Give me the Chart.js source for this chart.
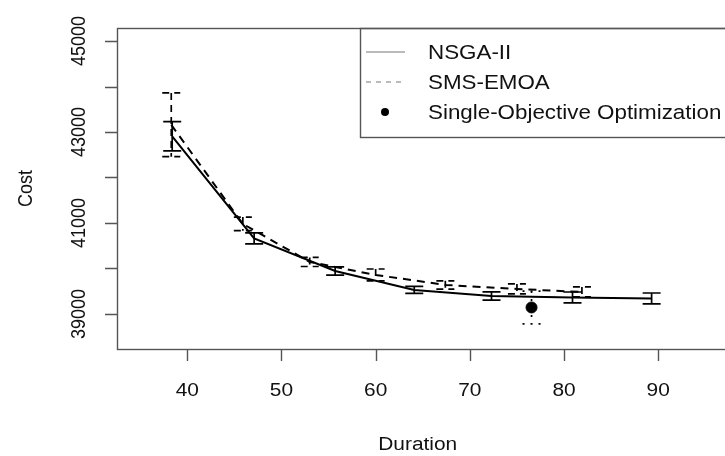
<!DOCTYPE html>
<html lang="en">
<head>
  <meta charset="UTF-8" />
  <title>Cost vs Duration</title>
  <script src="https://cdn.jsdelivr.net/npm/chart.js"></script>
  <style>
    body {
      margin: 0;
      padding: 0;
      background: white;
    }
    canvas {
      display: block;
    }
  </style>
</head>
<body>
  <canvas id="paretoChart" width="725" height="456"></canvas>

  <script>
    // values
    const nsgaDuration = [38.4, 47.1, 55.7, 64.1, 72.3, 80.9, 89.3];
    const nsgaCost = [42906, 40661, 39946, 39528, 39396, 39363, 39341];
    const nsgaSd = [320, 120, 90, 77, 90, 120, 120];

    const smsDuration = [38.3, 45.9, 53.0, 60.0, 67.4, 75.0, 81.9];
    const smsCost = [43158, 40980, 40144, 39858, 39638, 39550, 39484];
    const smsSd = [700, 150, 100, 130, 90, 110, 110];

    const soDuration = [76.55];
    const soCost = [39143];
    const soSd = [360];

    const xTicks = [40, 50, 60, 70, 80, 90];
    const yTicks = [39000, 40000, 41000, 42000, 43000, 44000, 45000];
    const yLabels = [39000, 41000, 43000, 45000];

    const legendNames = ['NSGA-II', 'SMS-EMOA', 'Single-Objective Optimization'];

    const FONT = '18px "Liberation Sans", Arial, sans-serif';
    const LEGEND_FONT = '19.3px "Liberation Sans", Arial, sans-serif';
    const STRETCH = 1.16; // the picture is a bit wider than tall

    function toPoints(xs, ys) {
      return xs.map((x, i) => ({ x: x, y: ys[i] }));
    }

    // text drawn with the same horizontal stretch as the picture
    function drawText(ctx, text, x, y, align, rotate, font) {
      ctx.save();
      ctx.translate(x, y);
      ctx.scale(STRETCH, 1);
      if (rotate) ctx.rotate(-Math.PI / 2);
      ctx.font = font || FONT;
      ctx.fillStyle = '#111';
      ctx.textAlign = align;
      ctx.textBaseline = 'alphabetic';
      ctx.fillText(text, 0, 0);
      ctx.restore();
    }

    const errorBars = {
      id: 'errorBars',
      afterDatasetsDraw(chart) {
        const ctx = chart.ctx;
        const xs = chart.scales.x;
        const ys = chart.scales.y;
        const sets = [
          { d: nsgaDuration, c: nsgaCost, s: nsgaSd, dash: [] },
          { d: smsDuration, c: smsCost, s: smsSd, dash: [7, 5] },
          { d: soDuration, c: soCost, s: soSd, dash: [2, 6] }
        ];
        const cap = 9;
        ctx.save();
        ctx.strokeStyle = '#000';
        ctx.lineWidth = 1.7;
        sets.forEach(set => {
          ctx.setLineDash(set.dash);
          set.d.forEach((dur, i) => {
            const px = xs.getPixelForValue(dur);
            const top = ys.getPixelForValue(set.c[i] + set.s[i]);
            const bot = ys.getPixelForValue(set.c[i] - set.s[i]);
            ctx.beginPath();
            ctx.moveTo(px, top);
            ctx.lineTo(px, bot);
            ctx.moveTo(px - cap, top);
            ctx.lineTo(px + cap, top);
            ctx.moveTo(px - cap, bot);
            ctx.lineTo(px + cap, bot);
            ctx.stroke();
          });
        });
        ctx.restore();
      }
    };

    // R style box, axes and legend
    const baseAxes = {
      id: 'baseAxes',
      afterDraw(chart) {
        const ctx = chart.ctx;
        const area = chart.chartArea;
        const xs = chart.scales.x;
        const ys = chart.scales.y;

        ctx.save();
        ctx.strokeStyle = '#555';
        ctx.lineWidth = 1.4;
        ctx.setLineDash([]);
        ctx.strokeRect(area.left + 0.5, area.top + 0.5, area.right + 20 - area.left, area.bottom - area.top);

        // x axis
        ctx.beginPath();
        xTicks.forEach(t => {
          const px = Math.round(xs.getPixelForValue(t)) + 0.5;
          ctx.moveTo(px, area.bottom);
          ctx.lineTo(px, area.bottom + 12);
        });
        ctx.stroke();
        xTicks.forEach(t => {
          drawText(ctx, String(t), xs.getPixelForValue(t), area.bottom + 47, 'center', false);
        });

        // y axis
        ctx.beginPath();
        yTicks.forEach(t => {
          const py = Math.round(ys.getPixelForValue(t)) + 0.5;
          ctx.moveTo(area.left - 12, py);
          ctx.lineTo(area.left, py);
        });
        ctx.stroke();
        yLabels.forEach(t => {
          drawText(ctx, String(t), area.left - 32, ys.getPixelForValue(t), 'center', true);
        });

        // axis titles
        drawText(ctx, 'Duration', (area.left + area.right) / 2, 450, 'center', false);
        drawText(ctx, 'Cost', 32, (area.top + area.bottom) / 2, 'center', true);

        // legend
        const lx = 360;
        const rows = [52, 82, 112];
        ctx.strokeStyle = '#555';
        ctx.lineWidth = 1.4;
        ctx.strokeRect(lx + 0.5, area.top + 0.5, 400, 109);

        ctx.strokeStyle = '#777';
        ctx.lineWidth = 1.2;
        ctx.beginPath();
        ctx.moveTo(366, rows[0]);
        ctx.lineTo(405, rows[0]);
        ctx.stroke();
        ctx.setLineDash([5, 5]);
        ctx.beginPath();
        ctx.moveTo(366, rows[1]);
        ctx.lineTo(405, rows[1]);
        ctx.stroke();
        ctx.setLineDash([]);
        ctx.fillStyle = '#000';
        ctx.beginPath();
        ctx.arc(385, rows[2], 4, 0, Math.PI * 2);
        ctx.fill();

        legendNames.forEach((name, i) => {
          drawText(ctx, name, 428, rows[i] + 7, 'left', false, LEGEND_FONT);
        });
        ctx.restore();
      }
    };

    new Chart(document.getElementById('paretoChart'), {
      type: 'scatter',
      data: {
        datasets: [
          {
            label: legendNames[0],
            data: toPoints(nsgaDuration, nsgaCost),
            showLine: true,
            borderColor: '#000',
            borderWidth: 2,
            pointRadius: 0
          },
          {
            label: legendNames[1],
            data: toPoints(smsDuration, smsCost),
            showLine: true,
            borderColor: '#000',
            borderWidth: 2,
            borderDash: [8, 6],
            pointRadius: 0
          },
          {
            label: legendNames[2],
            data: toPoints(soDuration, soCost),
            showLine: false,
            pointRadius: 5.5,
            pointBackgroundColor: '#000',
            pointBorderColor: '#000'
          }
        ]
      },
      options: {
        responsive: false,
        animation: false,
        layout: {
          padding: { left: 117, top: 28, right: 0, bottom: 107 }
        },
        plugins: {
          legend: { display: false },
          tooltip: { enabled: false }
        },
        scales: {
          x: { type: 'linear', min: 32.54, max: 96.4, display: false },
          y: { type: 'linear', min: 38230, max: 45286, display: false }
        }
      },
      plugins: [errorBars, baseAxes]
    });
  </script>
</body>
</html>
